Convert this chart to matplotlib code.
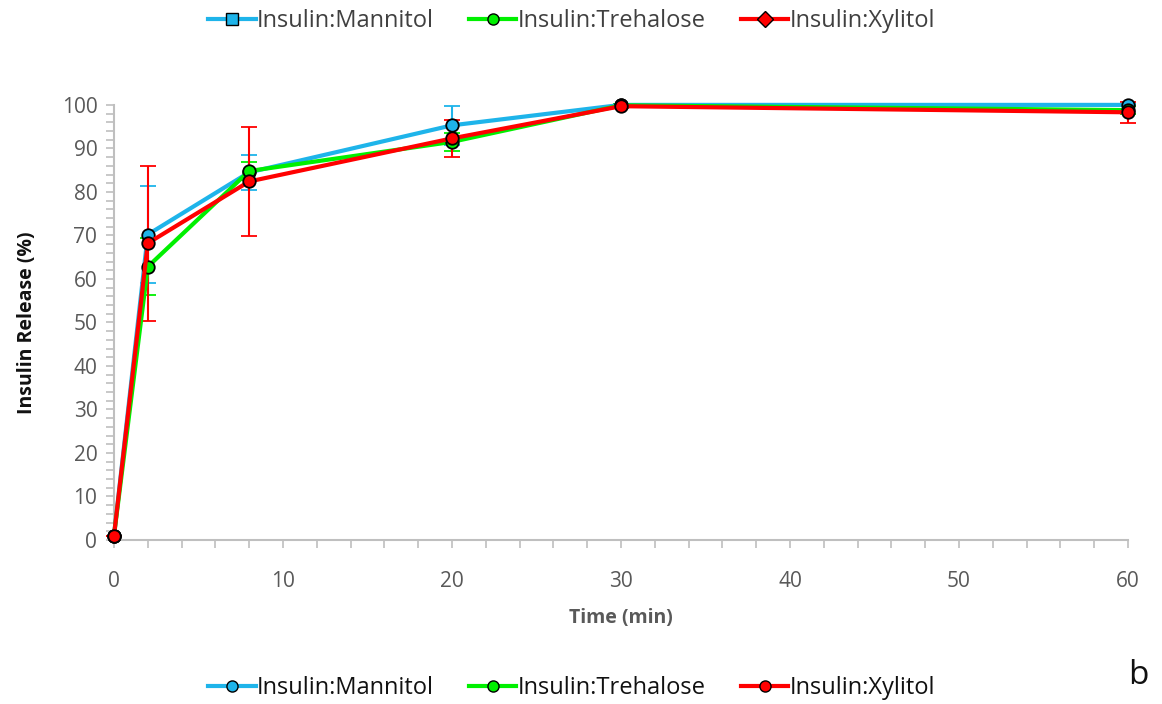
import matplotlib.pyplot as plt
from matplotlib.lines import Line2D
from matplotlib.ticker import MultipleLocator

plt.rcParams['font.family'] = ['Open Sans', 'DejaVu Sans']

# data
time = [0, 2, 8, 20, 30, 60]
labels = ['Insulin:Mannitol', 'Insulin:Trehalose', 'Insulin:Xylitol']
mannitol = [1.0, 70.2, 84.5, 95.3, 100.0, 100.0]
trehalose = [1.0, 62.8, 84.8, 91.5, 99.9, 98.8]
xylitol = [1.0, 68.2, 82.4, 92.3, 99.7, 98.3]
mannitol_err = [0, 11.2, 4.0, 4.5, 0.3, 0.3]
trehalose_err = [0, 6.5, 2.0, 2.0, 0.3, 1.0]
xylitol_err = [0, 17.8, 12.5, 4.2, 0.3, 2.4]
colors = ['#1EB4EA', '#00F000', '#FF0000']
legend_markers = ['s', 'o', 'D']

grey = '#595959'
axis_grey = '#BFBFBF'

fig = plt.figure(figsize=(11.62, 7.04), dpi=100)
ax = fig.add_axes([0.0981, 0.233, 0.8726, 0.618])

series = [mannitol, trehalose, xylitol]
errs = [mannitol_err, trehalose_err, xylitol_err]
for vals, err, c in zip(series, errs, colors):
    ax.errorbar(time, vals, yerr=err, color=c, lw=3, ecolor=c, elinewidth=1.5,
                capsize=6, capthick=1.5, marker='o', markersize=9,
                markerfacecolor=c, markeredgecolor='black', markeredgewidth=1.3,
                clip_on=False, zorder=3)

ax.set_xlim(0, 60)
ax.set_ylim(0, 100)
ax.xaxis.set_major_locator(MultipleLocator(10))
ax.xaxis.set_minor_locator(MultipleLocator(2))
ax.yaxis.set_major_locator(MultipleLocator(10))
ax.yaxis.set_minor_locator(MultipleLocator(2))

for s in ['top', 'right']:
    ax.spines[s].set_visible(False)
for s in ['left', 'bottom']:
    ax.spines[s].set_color(axis_grey)
    ax.spines[s].set_linewidth(1.5)

ax.tick_params(which='both', direction='out', color=axis_grey, width=1.2,
               length=6, labelcolor=grey, labelsize=15)
ax.tick_params(axis='x', which='major', pad=16)
ax.tick_params(axis='y', which='major', pad=6)

ax.set_xlabel('Time (min)', fontsize=14, fontweight='bold', color=grey, labelpad=12)
ax.set_ylabel('Insulin Release (%)', fontsize=14, fontweight='bold', color='#111111', labelpad=18)

# top legend (square / circle / diamond markers)
top_handles = [Line2D([0], [0], color=c, lw=3, marker=m, markersize=8,
                      markerfacecolor=c, markeredgecolor='black', markeredgewidth=1)
               for c, m in zip(colors, legend_markers)]
fig.legend(top_handles, labels, loc='center', bbox_to_anchor=(0.492, 0.970), ncol=3,
           frameon=False, fontsize=17, handlelength=2.0, handletextpad=0.05,
           columnspacing=1.5, labelcolor='#404040')

# bottom legend (circles)
bot_handles = [Line2D([0], [0], color=c, lw=3, marker='o', markersize=8,
                      markerfacecolor=c, markeredgecolor='black', markeredgewidth=1)
               for c in colors]
fig.legend(bot_handles, labels, loc='center', bbox_to_anchor=(0.492, 0.023), ncol=3,
           frameon=False, fontsize=17, handlelength=2.0, handletextpad=0.05,
           columnspacing=1.5, labelcolor='#111111')

fig.text(0.988, 0.04, 'b', fontsize=24, ha='right', va='center', color='#111111')

plt.savefig('out.png', dpi=100)
